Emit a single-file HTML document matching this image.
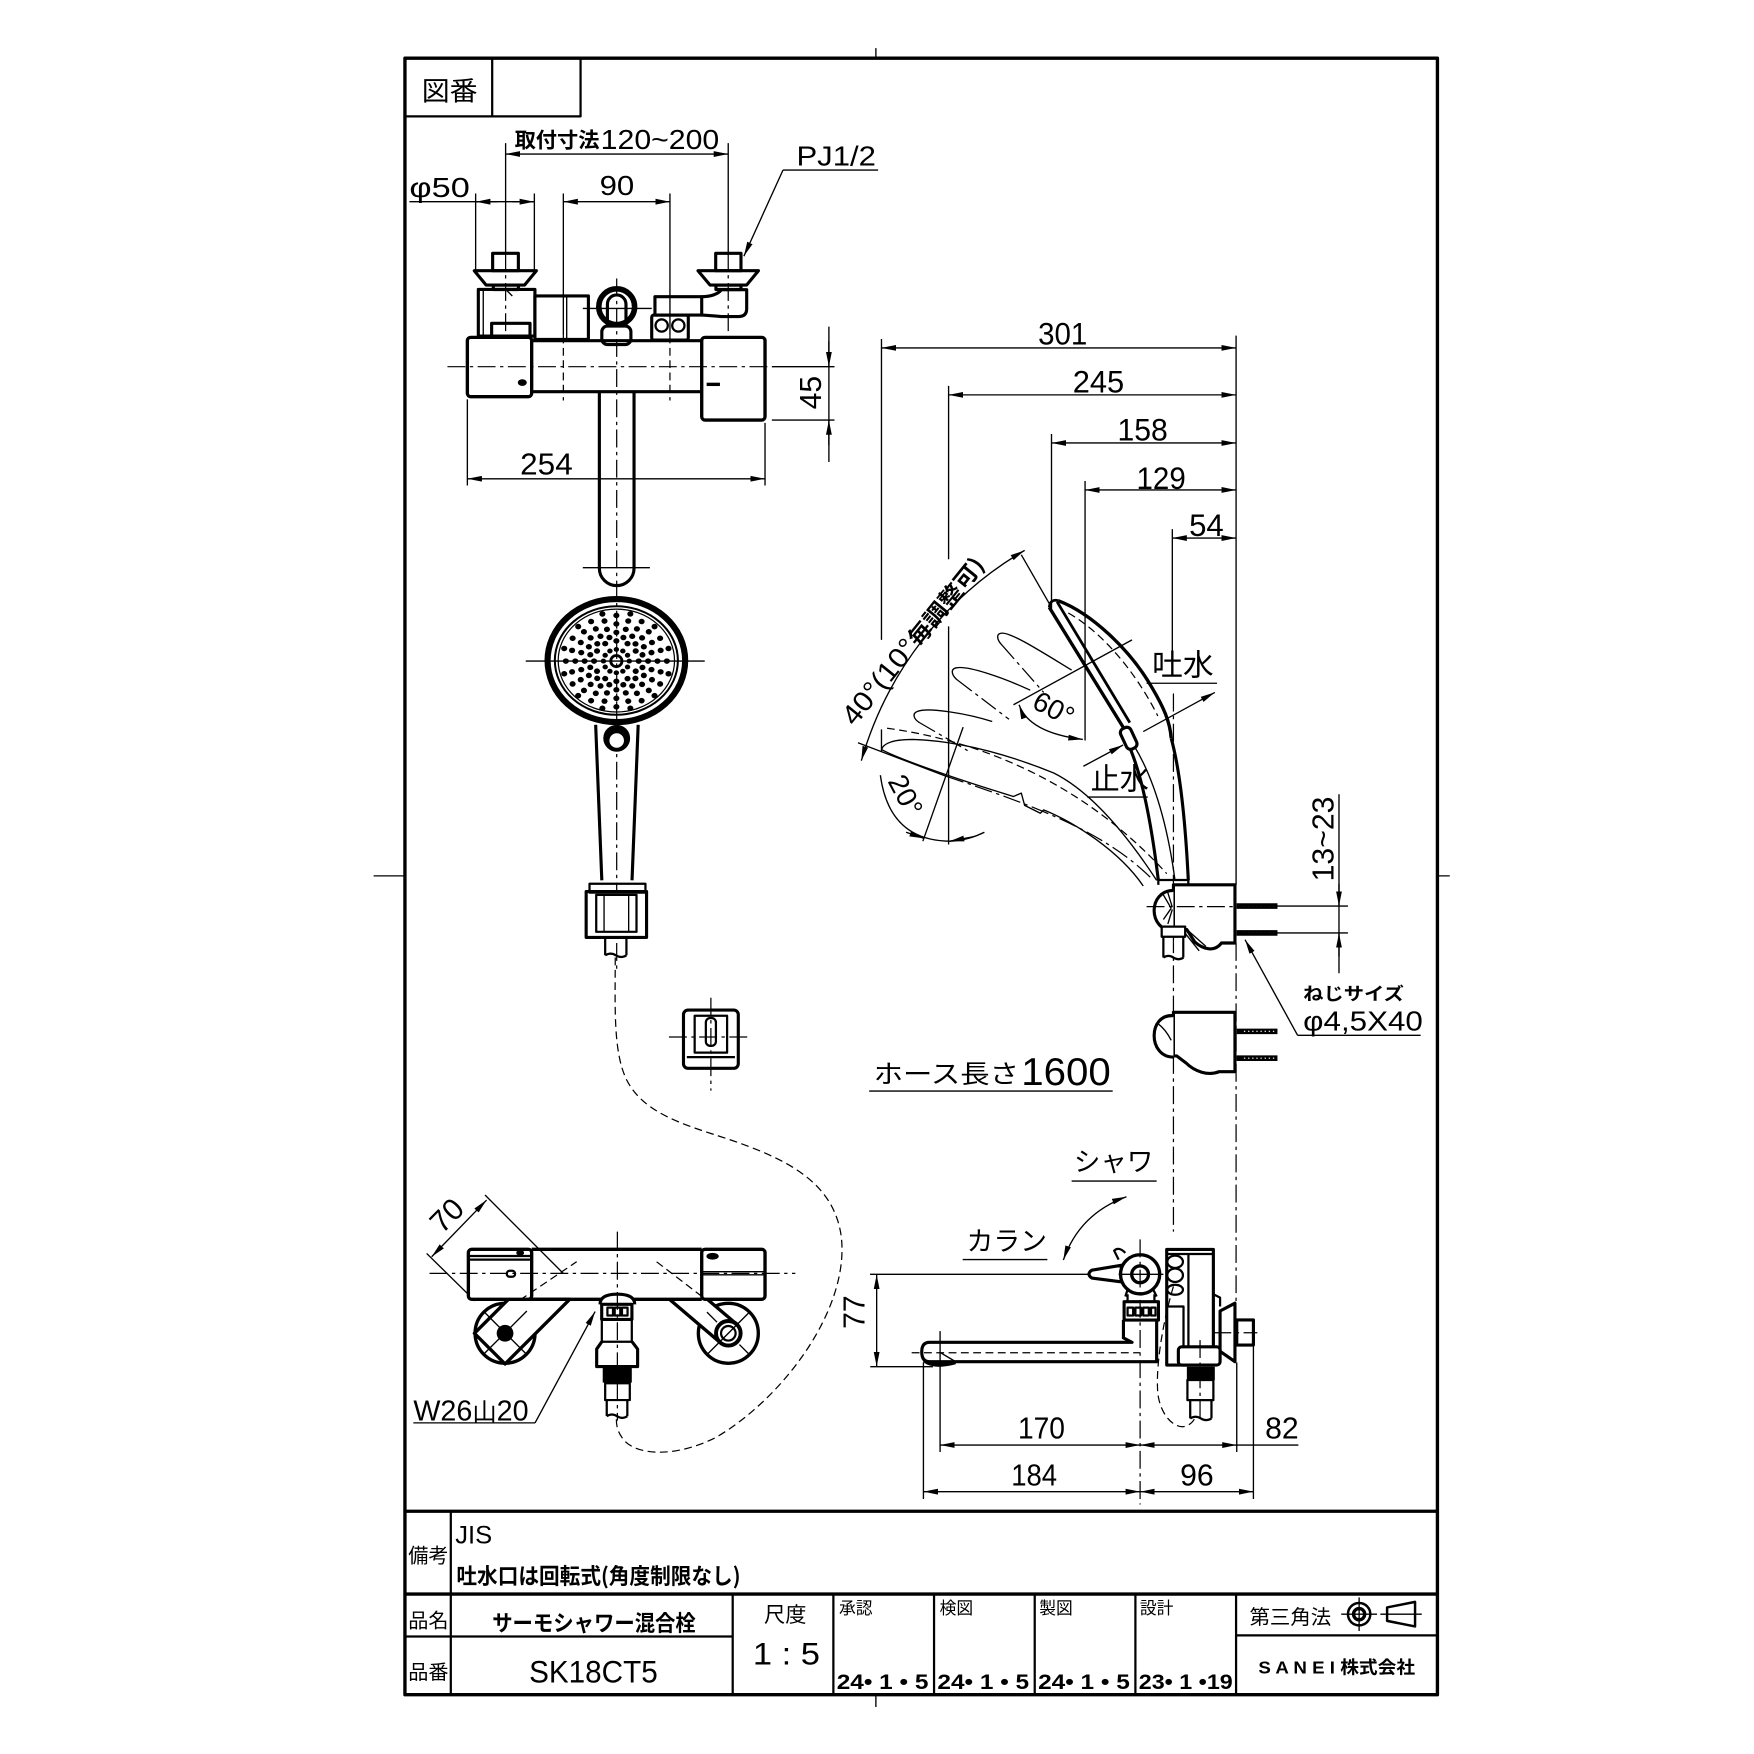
<!DOCTYPE html>
<html><head><meta charset="utf-8">
<style>
html,body{margin:0;padding:0;background:#fff;}
svg{display:block;}
text{font-family:"Liberation Sans","Noto Sans CJK JP",sans-serif;fill:#000;stroke:none;}
.j{font-family:"Noto Sans CJK JP","Liberation Sans",sans-serif;}
.th{stroke-width:1.2}
.md{stroke-width:2}
.tk{stroke-width:2.8}
.cl{stroke-width:1.1;stroke-dasharray:16 4 3 4}
.hd{stroke-width:1.1;stroke-dasharray:7 4}
.w{fill:#fff}
</style></head><body>
<svg width="1754" height="1754" viewBox="0 0 1568 1568" xmlns="http://www.w3.org/2000/svg">
<defs>
<marker id="a" markerUnits="userSpaceOnUse" markerWidth="14" markerHeight="8" viewBox="0 -4 14 8" refX="13" refY="0" orient="auto-start-reverse"><path d="M0,-2.6 L13,0 L0,2.6 z" fill="#000" stroke="none"/></marker>
<g id="sp"><circle cx="11" cy="0" r="2.3"/><circle cx="19" cy="0" r="2.6"/><circle cx="27" cy="0" r="2.6"/><circle cx="35" cy="0" r="2.6"/><circle cx="43" cy="0" r="2.6"/></g>
<g id="sq"><circle cx="22.2" cy="6" r="2.6"/><circle cx="29.9" cy="8" r="2.6"/><circle cx="37.7" cy="10.1" r="2.6"/><circle cx="44.4" cy="11.9" r="2.6"/></g>
</defs>
<rect width="1568" height="1568" fill="#fff"/>
<g fill="none" stroke="#000" stroke-linejoin="round">
<!-- frame -->
<rect x="362" y="52" width="923" height="1463" stroke-width="3"/>
<path class="th" d="M783,43V52 M783,1515V1526 M334,783H362 M1285,783H1296"/>
<path class="md" d="M362,104H519V52 M440,52V104"/>
<!-- title block -->
<path stroke-width="3" d="M362,1351H1285 M362,1425H1285"/>
<path class="md" d="M403,1351V1515 M362,1463H655 M655,1425V1515 M745,1425V1515 M835,1425V1515 M925,1425V1515 M1015,1425V1515 M1105,1425V1515 M1105,1462H1285"/>
<circle cx="1215" cy="1443" r="10" stroke-width="2.2"/>
<circle cx="1215" cy="1443" r="5" stroke-width="3"/>
<path class="th" d="M1199,1443H1231 M1215,1428V1458 M1234,1443H1271"/>
<path stroke-width="2.2" d="M1240,1437 L1265,1432 V1454 L1240,1449 Z"/>

<!-- ===== TOP FRONT VIEW ===== -->
<path class="th" d="M452,137.7H651" marker-start="url(#a)" marker-end="url(#a)"/>
<path class="th" d="M452,128V226 M651,128V226"/>
<path class="cl" d="M452,226V300 M651,226V300"/>
<path class="th" d="M366,180.3H477.7 M425.2,173V242 M477.7,173V242"/>
<path class="th" d="M445,180.3H425.4" marker-end="url(#a)"/>
<path class="th" d="M458,180.3H477.5" marker-end="url(#a)"/>
<path class="th" d="M503.6,180.3H598.9" marker-start="url(#a)" marker-end="url(#a)"/>
<path class="th" d="M503.6,173V300 M598.9,173V300"/>
<path class="hd" d="M503.6,300V358 M598.9,300V358"/>
<path class="th" d="M785,152H700"/>
<path class="th" d="M700,152L665,229" marker-end="url(#a)"/>
<g class="tk">
<rect x="440.4" y="226.5" width="23" height="15.5"/>
<path d="M424,242H479.5L469,254.8H434.5Z"/>
<rect x="441" y="254.8" width="22.4" height="4"/>
<rect x="639.8" y="226.5" width="22.6" height="15.5"/>
<path d="M624,242H678L667.5,254.8H634.7Z"/>
<rect x="640" y="254.8" width="22.4" height="4"/>
<rect x="427.6" y="258.7" width="50.6" height="41.7"/>
<rect x="478.2" y="264.6" width="47.8" height="38.8"/>
<rect x="439.5" y="289" width="34.3" height="12.6"/>
<circle cx="551.3" cy="274.2" r="16" stroke-width="5"/>
<path d="M543,292V272A8.3,8.3 0 0 1 559.6,272V292"/>
<rect x="538" y="291.5" width="26" height="16.5" rx="5"/>
<rect x="585.5" y="265.2" width="41.8" height="16.4"/>
<path d="M627.3,265.2 Q640,265 645,259 H667.5 V276 Q667.5,283 660,283 H645 Q635,282 627.3,281.6"/>
<rect x="582.6" y="281.6" width="32.7" height="22.4" rx="2"/>
<circle cx="591.5" cy="291" r="5.5" stroke-width="2"/>
<circle cx="606.4" cy="291" r="5.5" stroke-width="2"/>
<rect x="417.8" y="301.6" width="57.5" height="53" rx="3" stroke-width="3"/>
<path d="M475.3,304.6H627.3 M475.3,350.2H627.3"/>
<rect x="627.3" y="301.6" width="56.6" height="73.9" rx="3" stroke-width="3"/>
<path d="M535.8,350V508A15.5,15.5 0 0 0 566.8,508V350"/>
</g>
<path class="th" d="M432,260V300 M506.6,264.6V303.4 M452,258.7L458,264.6"/>
<ellipse cx="466.9" cy="342" rx="3.5" ry="2.5" fill="#000"/>
<path stroke-width="3" d="M631.7,343.6H643.6"/>
<path class="th" d="M521,275.7H582.6"/>
<path class="cl" d="M400,327.8H690"/>
<path class="cl" d="M551.3,249V870"/>
<path class="th" d="M521,507.5H581"/>
<!-- 254 & 45 -->
<path class="th" d="M417.8,428H683.9" marker-start="url(#a)" marker-end="url(#a)"/>
<path class="th" d="M417.8,357V434 M683.9,378V434"/>
<path class="th" d="M690,327.8H746 M690,375.5H746 M741,292V413"/>
<path class="th" d="M741,305V327.6" marker-end="url(#a)"/>
<path class="th" d="M741,398V375.7" marker-end="url(#a)"/>

<!-- shower head front -->
<ellipse cx="551" cy="590.5" rx="61.5" ry="55" stroke-width="5.5"/>
<ellipse cx="551" cy="590.5" rx="55" ry="48.5" stroke-width="1.8"/>
<ellipse cx="551" cy="590.5" rx="52" ry="46" stroke-width="1.1"/>
<path class="th" d="M470,591H630"/>
<circle cx="551" cy="591" r="5" stroke-width="2.5"/>
<g fill="#000" stroke="none" transform="translate(551,591) scale(1.05,0.95)">
<use href="#sp"/><use href="#sp" transform="rotate(30)"/><use href="#sp" transform="rotate(60)"/><use href="#sp" transform="rotate(90)"/><use href="#sp" transform="rotate(120)"/><use href="#sp" transform="rotate(150)"/><use href="#sp" transform="rotate(180)"/><use href="#sp" transform="rotate(210)"/><use href="#sp" transform="rotate(240)"/><use href="#sp" transform="rotate(270)"/><use href="#sp" transform="rotate(300)"/><use href="#sp" transform="rotate(330)"/>
<use href="#sq"/><use href="#sq" transform="rotate(30)"/><use href="#sq" transform="rotate(60)"/><use href="#sq" transform="rotate(90)"/><use href="#sq" transform="rotate(120)"/><use href="#sq" transform="rotate(150)"/><use href="#sq" transform="rotate(180)"/><use href="#sq" transform="rotate(210)"/><use href="#sq" transform="rotate(240)"/><use href="#sq" transform="rotate(270)"/><use href="#sq" transform="rotate(300)"/><use href="#sq" transform="rotate(330)"/>
</g>
<path class="tk" d="M532.5,648 L538,787 M570.5,648 L565,787"/>
<circle cx="551.3" cy="660" r="12" fill="#000" stroke="none"/>
<circle cx="551.3" cy="662" r="6.5" fill="#fff" stroke="none"/>
<!-- holder front -->
<path class="tk w" d="M524,797 V838 H578 V797 Z"/>
<rect class="md" x="527" y="790" width="50" height="8"/>
<rect class="md" x="533" y="800" width="36" height="33"/>
<path class="th" d="M540,800V833 M562,800V833"/>
<path class="md" d="M541,838V854 M560,838V854 M541,854 q5,-3 9.5,0 q5,3 9.5,0"/>
<!-- hose -->
<path class="hd" d="M550,856 C550,900 548,940 560,965 C575,995 610,1005 650,1018 C700,1035 745,1055 752,1105 C760,1170 700,1250 640,1285 C600,1305 565,1300 556,1285 C551,1278 551,1272 551,1268"/>
<!-- middle holder -->
<rect class="tk w" x="611" y="903" width="49" height="52" rx="4"/>
<path class="md" d="M614,945H657"/>
<rect class="md" x="621" y="908" width="29" height="33"/>
<rect class="md" x="631" y="910" width="9" height="25" rx="4"/>
<path class="cl" d="M635.5,892V975 M598,927H672"/>

<!-- ===== BOTTOM-LEFT VIEW ===== -->
<path class="th" d="M381.4,1120.5 L424.6,1163 M433.6,1068.3 L503.6,1138.4"/>
<path class="th" d="M385.9,1123.5 L435,1072.8" marker-start="url(#a)" marker-end="url(#a)"/>
<circle class="w" cx="451.5" cy="1191.9" r="26.8" stroke-width="3"/>
<path class="w" stroke-width="3" d="M451.5,1219.3 L424.1,1191.9 L454.5,1161.5 L509.3,1161.5 Z"/>
<circle cx="451.5" cy="1191.9" r="7.5" fill="#000" stroke="none"/>
<path class="th" d="M432,1172 L471,1211 M432,1211 L471,1172"/>
<circle class="w" cx="651.1" cy="1191.9" r="26.8" stroke-width="3"/>
<path class="w" stroke-width="3" d="M598.4,1161.5 L644,1200.3 A11,11 0 0 0 658.2,1183.5 L632.3,1161.5"/>
<circle cx="651.1" cy="1191.9" r="11" stroke-width="3.5"/>
<circle cx="651.1" cy="1191.9" r="6.5" stroke-width="2"/>
<path class="th" d="M632,1211 L670,1173 M632,1173 L641,1182 M661,1202 L670,1211"/>
<rect class="w" x="418.7" y="1116.8" width="56.6" height="44.7" rx="3" stroke-width="3"/>
<path stroke-width="3" d="M475.3,1116.8H627.3 M475.3,1161.5H627.3"/>
<rect class="w" x="627.3" y="1116.8" width="56.6" height="44.7" rx="3" stroke-width="3"/>
<path class="md" d="M420,1122.8H475 M420,1126H475"/>
<rect class="md" x="453" y="1136" width="7.5" height="5.4" rx="2.7"/>
<ellipse cx="465" cy="1120" rx="3" ry="2" fill="#000"/>
<ellipse cx="637" cy="1123" rx="5" ry="2.5" fill="#000"/>
<path class="th" d="M627.3,1136.8H683.9 M627.3,1139.6H683.9"/>
<path class="cl" d="M384,1138.3H711"/>
<path class="hd" d="M464.8,1162.2L515.5,1127.9 M587,1128L631.7,1162.2"/>
<path class="w tk" d="M536.4,1166 Q536.4,1157 551.9,1157 Q567.4,1157 567.4,1166"/>
<rect class="tk w" x="537.9" y="1166" width="27" height="13.5"/>
<path class="md" d="M543,1169h5v7h-5z M549.5,1169h5v7h-5z M556,1169h5v7h-5z"/>
<rect class="md" x="538" y="1179.5" width="26.8" height="20"/>
<path class="tk" d="M538,1199.4 L533.4,1206 V1221.7 H570 V1206 L565,1199.4"/>
<rect x="538.8" y="1222" width="26" height="14" fill="#000" stroke="none"/>
<rect class="md" x="541" y="1236.6" width="22" height="15"/>
<path class="md" d="M542.4,1251.5V1266 M560.8,1251.5V1266 M542.4,1266 q4.6,-3 9.2,0 q4.6,3 9.2,0"/>
<path class="cl" d="M551.9,1101V1270"/>
<path class="th" d="M369.5,1272H478.3"/>
<path class="th" d="M478.3,1272L532,1172.5" marker-end="url(#a)"/>

<!-- ===== RIGHT SIDE VIEW ===== -->
<path class="th" d="M788,311H1105" marker-start="url(#a)" marker-end="url(#a)"/>
<path class="th" d="M848,353H1105" marker-start="url(#a)" marker-end="url(#a)"/>
<path class="th" d="M940,396H1105" marker-start="url(#a)" marker-end="url(#a)"/>
<path class="th" d="M970,438H1105" marker-start="url(#a)" marker-end="url(#a)"/>
<path class="th" d="M1048,481H1105" marker-start="url(#a)" marker-end="url(#a)"/>
<path class="th" d="M1105,300V791 M788,303V572 M788,652V672 M848,345V500 M848,560V755 M940,388V545 M970,430V662 M1048,473V600"/>
<path class="cl" d="M1105,843V1165 M1049,620V1101"/>
<!-- 40 deg arc -->
<path class="th" d="M770,680 A319.5,319.5 0 0 1 916,492" marker-start="url(#a)" marker-end="url(#a)"/>
<path class="th" d="M913,496 L940,543"/>
<path class="th" d="M767,664 L846,694"/>
<path class="cl" d="M846,694 C930,722 990,745 1031,787"/>
<!-- ghost leaves -->
<path class="th" d="M958,599 C930,582 905,566 896,566 C890,566 891,572 896,577"/>
<path class="cl" d="M896,577 L933,619"/>
<path class="th" d="M921,617 C895,605 865,595 855,597 C849,598 851,604 856,608"/>
<path class="cl" d="M856,608 L902,643"/>
<path class="th" d="M887,645 C865,638 830,632 820,636 C815,638 817,643 822,646"/>
<path class="cl" d="M822,646 L865,671"/>
<path class="th" d="M788,670 C790,664 800,661 816,661 C850,662 890,670 942,691 C970,705 1000,735 1034,787"/>
<path class="th" d="M788,670 C800,677 850,695 906,712 L913,709 L916,720 L930,727 L933,724 C960,735 1000,760 1022,792"/>
<path class="hd" d="M793,651 C860,660 960,690 1043,781"/>
<!-- 20 deg -->
<path class="th" d="M787,693 Q795,752 850,752 Q866,751 880,744"/>
<path class="th" d="M810,744 L826,749.5" marker-end="url(#a)"/>
<path class="th" d="M870,748 L849,752" marker-end="url(#a)"/>
<path class="th" d="M861,650 L825,752"/>
<!-- 60 deg -->
<path class="th" d="M906,630 L1012,572"/>
<path class="th" d="M911,630 Q920,655 968,661" marker-start="url(#a)" marker-end="url(#a)"/>
<!-- head side -->
<path stroke-width="3" d="M938,543 L1004,650"/>
<path stroke-width="2.5" d="M945,538 L1010,646"/>
<path stroke-width="2.5" d="M938,543 Q939,535 946,537"/>
<path stroke-width="3" d="M946,537 C975,548 1010,580 1030,615 C1040,632 1046,645 1047,660"/>
<path class="hd" d="M955,548 C985,565 1015,600 1035,640"/>
<path class="md" d="M1004,650 L1006,656 Q1010,660 1008,664"/>
<path class="tk" d="M1008,664 Q1025,700 1035.5,787"/>
<path class="th" d="M1014,667 Q1040,710 1050.4,787"/>
<path class="tk" d="M1047,660 Q1058,700 1062.3,787"/>
<rect class="w tk" x="1004" y="650" width="10" height="20" rx="4" transform="rotate(-25 1009 660)"/>
<path class="th" d="M1022,654 L1086,619" marker-end="url(#a)"/>
<path class="th" d="M1025,610.8H1088 M972,712.5H1026"/>
<path class="th" d="M968.5,685 L1004,666" marker-end="url(#a)"/>
<!-- bracket 1 -->
<path class="md" d="M1035.5,791 V786.7 H1062.3 V791"/>
<path class="tk w" d="M1049,791 H1104 V843 H1092 C1085,852 1075,848 1068,842 L1061,831 H1049 Z"/>
<path class="tk w" d="M1049,796 C1026,796 1026,832 1049,832"/>
<path class="cl" d="M1025,810.5H1104"/>
<path class="th" d="M1040,800 L1047,812 M1044,798 L1048,811 M1040,822 L1047,812 M1044,826 L1048,813 M1056,830 L1072,850 M1060,830 L1078,846"/>
<rect class="md w" x="1038.5" y="828.4" width="21" height="9"/>
<path class="md" d="M1040,837V856 M1057.8,837V856 M1040,856 q4.5,-3 9,0 q4.5,3 9,0"/>
<path stroke-width="5" d="M1105.5,810H1142 M1105.5,834H1142"/>
<path stroke="#fff" stroke-width="1" stroke-dasharray="1.2 2.5" d="M1112,810H1140 M1112,834H1140"/>
<!-- 13~23 -->
<path class="th" d="M1110,810H1205 M1110,834H1205 M1197,710V870"/>
<path class="th" d="M1197,790V809.8" marker-end="url(#a)"/>
<path class="th" d="M1197,855V834.2" marker-end="url(#a)"/>
<!-- nejisize leader -->
<path class="th" d="M1270,925.5H1160"/>
<path class="th" d="M1160,925.5 L1113,840" marker-end="url(#a)"/>
<!-- bracket 2 -->
<path class="tk w" d="M1049,905 H1104 V958 H1090 C1080,962 1068,958 1060,950 L1052,944 H1049 Z"/>
<path class="tk w" d="M1049,908 C1026,906 1026,945 1049,945"/>
<path class="th" d="M1035,915 Q1042,920 1047,930"/>
<path stroke-width="5" d="M1105.5,922H1142 M1105.5,946H1142"/>
<path stroke="#fff" stroke-width="1" stroke-dasharray="1.2 2.5" d="M1112,922H1140 M1112,946H1140"/>
<!-- hose text underline -->
<path class="th" d="M777,975.4H994.7 M958,1055.8H1034 M860.6,1126H936.3"/>
<path class="th" d="M950.6,1126.4 Q965,1085 1007,1069.8" marker-start="url(#a)" marker-end="url(#a)"/>

<!-- ===== BOTTOM-RIGHT VIEW ===== -->
<path class="th" d="M777.8,1139.2H974.5 M778,1221.8H834"/>
<path class="th" d="M783.7,1139.4V1221.6" marker-start="url(#a)" marker-end="url(#a)"/>
<path class="tk w" d="M1004.3,1196 L1012,1200 H831 Q824,1200 824,1208.5 Q824,1217.3 831,1217.3 H1034 V1180"/>
<path d="M826,1217.3 Q835,1224 853.8,1219 Z" fill="#000" stroke-width="1.5"/>
<path class="th" d="M840.4,1209 L853.8,1217"/>
<path class="hd" d="M815,1209.3H1019"/>
<path class="tk" d="M1004.3,1180 V1197"/>
<rect class="tk w" x="1004.9" y="1163.7" width="30.7" height="16.4"/>
<path class="md" d="M1008,1169h5v7h-5z M1015,1169h5v7h-5z M1022,1169h5v7h-5z M1029,1169h4v7h-4z"/>
<path class="md" d="M1008,1157 V1163.7 M1032,1157 V1163.7"/>
<path class="tk w" d="M1003,1131 L976,1135.5 Q971,1139 976,1142.5 L1003,1146 Z"/>
<path class="md" d="M1000,1126 L996,1118 Q1000,1114 1006,1120"/>
<circle class="w" cx="1019.2" cy="1139.2" r="17.5" stroke-width="3"/>
<circle cx="1019.2" cy="1139.2" r="7.5" stroke-width="3"/>
<path class="md" d="M1008,1153 L1006,1159 M1031,1153 L1034,1159"/>
<path class="cl" d="M1019.2,1108V1345"/>
<path class="th" d="M1000,1139.2H1040"/>
<rect class="tk w" x="1043" y="1116.9" width="41.7" height="103.4"/>
<path class="md" d="M1043,1121H1084.7 M1062.4,1121V1205 M1043,1168H1058V1220"/>
<ellipse cx="1050.5" cy="1128" rx="7" ry="5.5" stroke-width="2"/>
<ellipse cx="1050.5" cy="1140" rx="7" ry="6" stroke-width="2"/>
<ellipse cx="1050.5" cy="1153" rx="7" ry="4.5" stroke-width="2"/>
<path class="md" d="M1084.7,1157 L1090.7,1160 V1168"/>
<path class="tk w" d="M1090.7,1172 L1104,1165 V1217.3 L1090.7,1208 Z"/>
<rect class="tk w" x="1105.6" y="1180" width="14.9" height="22.4"/>
<path class="cl" d="M1084.7,1191.4H1124"/>
<rect class="tk w" x="1053.4" y="1204" width="37.3" height="16.3" rx="3"/>
<rect x="1061" y="1221.8" width="25" height="12" fill="#000" stroke="none"/>
<rect class="md" x="1061.5" y="1233.7" width="23.2" height="18"/>
<path class="md" d="M1064,1251.6V1268 M1083,1251.6V1268 M1064,1268 q4.7,-3 9.5,0 q4.7,3 9.5,0"/>
<path class="cl" d="M1072.8,1198V1272"/>
<path class="hd" d="M1049,1150 C1040,1180 1033,1220 1035,1245 C1037,1265 1050,1278 1060,1275 C1065,1273 1067,1270 1068,1268"/>
<!-- bottom dims -->
<path class="th" d="M840.4,1291.8H1019.2" marker-start="url(#a)" marker-end="url(#a)"/>
<path class="th" d="M1019.2,1291.8H1105.6" marker-start="url(#a)" marker-end="url(#a)"/>
<path class="th" d="M1105.6,1291.8H1160.7"/>
<path class="th" d="M825.5,1333.5H1019.2" marker-start="url(#a)" marker-end="url(#a)"/>
<path class="th" d="M1019.2,1333.5H1120.5" marker-start="url(#a)" marker-end="url(#a)"/>
<path class="th" d="M825.5,1218V1340 M840.4,1190V1298 M1105.6,1218V1298 M1120.5,1203V1340"/>
</g>

<!-- ===== TEXT ===== -->
<text class="j" x="377" y="90" font-size="24" textLength="50" lengthAdjust="spacingAndGlyphs">図番</text>
<text class="j" x="460" y="132" font-size="19" font-weight="bold" textLength="76" lengthAdjust="spacingAndGlyphs">取付寸法</text>
<text x="537" y="133" font-size="25" textLength="106" lengthAdjust="spacingAndGlyphs">120~200</text>
<text x="366" y="176" font-size="25" textLength="54" lengthAdjust="spacingAndGlyphs">φ50</text>
<text x="536" y="174.5" font-size="25" textLength="31" lengthAdjust="spacingAndGlyphs">90</text>
<text x="712" y="148" font-size="25" textLength="71" lengthAdjust="spacingAndGlyphs">PJ1/2</text>
<text x="465" y="424" font-size="27" textLength="47" lengthAdjust="spacingAndGlyphs">254</text>
<text transform="translate(734,351) rotate(-90)" text-anchor="middle" font-size="27">45</text>

<text x="928" y="308" font-size="28" textLength="44" lengthAdjust="spacingAndGlyphs">301</text>
<text x="959" y="351" font-size="28" textLength="46" lengthAdjust="spacingAndGlyphs">245</text>
<text x="999" y="394" font-size="28" textLength="45" lengthAdjust="spacingAndGlyphs">158</text>
<text x="1016" y="437" font-size="28" textLength="44" lengthAdjust="spacingAndGlyphs">129</text>
<text x="1063" y="479" font-size="28" textLength="31" lengthAdjust="spacingAndGlyphs">54</text>
<text transform="translate(764,650) rotate(-51)" font-size="25" textLength="186" lengthAdjust="spacingAndGlyphs">40°(10°<tspan class="j" font-size="20" font-weight="bold">毎調整可)</tspan></text>
<text transform="translate(938,641) rotate(28)" text-anchor="middle" font-size="25">60°</text>
<text transform="translate(802,715) rotate(62)" text-anchor="middle" font-size="25">20°</text>
<text class="j" x="1030" y="604" font-size="27" textLength="55" lengthAdjust="spacingAndGlyphs">吐水</text>
<text class="j" x="975" y="706" font-size="27" textLength="52" lengthAdjust="spacingAndGlyphs">止水</text>
<text transform="translate(1192,750) rotate(-90)" text-anchor="middle" font-size="27">13~23</text>
<text class="j" x="1165" y="894" font-size="16" font-weight="bold" textLength="90" lengthAdjust="spacingAndGlyphs">ねじサイズ</text>
<text x="1165" y="921" font-size="25" textLength="107" lengthAdjust="spacingAndGlyphs">φ4,5X40</text>
<text class="j" x="781" y="968" font-size="23" textLength="130" lengthAdjust="spacingAndGlyphs">ホース長さ</text>
<text x="913" y="970" font-size="35" textLength="80" lengthAdjust="spacingAndGlyphs">1600</text>
<text class="j" x="960" y="1047" font-size="24" textLength="71" lengthAdjust="spacingAndGlyphs">シャワ</text>
<text class="j" x="864" y="1118" font-size="24" textLength="72" lengthAdjust="spacingAndGlyphs">カラン</text>
<text transform="translate(773,1173) rotate(-90)" text-anchor="middle" font-size="27">77</text>
<text x="910" y="1286" font-size="27" textLength="42" lengthAdjust="spacingAndGlyphs">170</text>
<text x="1131" y="1286" font-size="27" textLength="30" lengthAdjust="spacingAndGlyphs">82</text>
<text x="904" y="1328" font-size="27" textLength="41" lengthAdjust="spacingAndGlyphs">184</text>
<text x="1055" y="1328" font-size="27" textLength="30" lengthAdjust="spacingAndGlyphs">96</text>
<text transform="translate(406,1093) rotate(-45)" text-anchor="middle" font-size="27">70</text>
<text x="369.5" y="1270" font-size="26" textLength="103" lengthAdjust="spacingAndGlyphs">W26<tspan class="j" font-size="22">山</tspan>20</text>

<!-- title block text -->
<text class="j" x="383" y="1397" font-size="18" text-anchor="middle">備考</text>
<text x="407" y="1380" font-size="22" textLength="33" lengthAdjust="spacingAndGlyphs">JIS</text>
<text class="j" x="408" y="1416" font-size="20" font-weight="bold" textLength="254" lengthAdjust="spacingAndGlyphs">吐水口は回転式(角度制限なし)</text>
<text class="j" x="383" y="1455" font-size="18" text-anchor="middle">品名</text>
<text class="j" x="440" y="1458" font-size="20" font-weight="bold" textLength="182" lengthAdjust="spacingAndGlyphs">サーモシャワー混合栓</text>
<text class="j" x="383" y="1501" font-size="18" text-anchor="middle">品番</text>
<text x="473" y="1504" font-size="28" textLength="115" lengthAdjust="spacingAndGlyphs">SK18CT5</text>
<text class="j" x="702" y="1450" font-size="19" text-anchor="middle">尺度</text>
<text x="673" y="1488" font-size="28" textLength="60" lengthAdjust="spacingAndGlyphs">1 : 5</text>
<text class="j" x="750" y="1443" font-size="15">承認</text>
<text class="j" x="840" y="1443" font-size="15">検図</text>
<text class="j" x="929" y="1443" font-size="15">製図</text>
<text class="j" x="1019" y="1443" font-size="15">設計</text>
<text x="748" y="1510" font-size="19" font-weight="bold" textLength="82" lengthAdjust="spacingAndGlyphs">24• 1 • 5</text>
<text x="838" y="1510" font-size="19" font-weight="bold" textLength="82" lengthAdjust="spacingAndGlyphs">24• 1 • 5</text>
<text x="928" y="1510" font-size="19" font-weight="bold" textLength="82" lengthAdjust="spacingAndGlyphs">24• 1 • 5</text>
<text x="1018" y="1510" font-size="19" font-weight="bold" textLength="84" lengthAdjust="spacingAndGlyphs">23• 1 •19</text>
<text class="j" x="1117" y="1452" font-size="18" textLength="73" lengthAdjust="spacingAndGlyphs">第三角法</text>
<text x="1125" y="1496" font-size="16" font-weight="bold" textLength="140" lengthAdjust="spacingAndGlyphs">S A N E I <tspan class="j">株式会社</tspan></text>
</svg>
</body></html>
